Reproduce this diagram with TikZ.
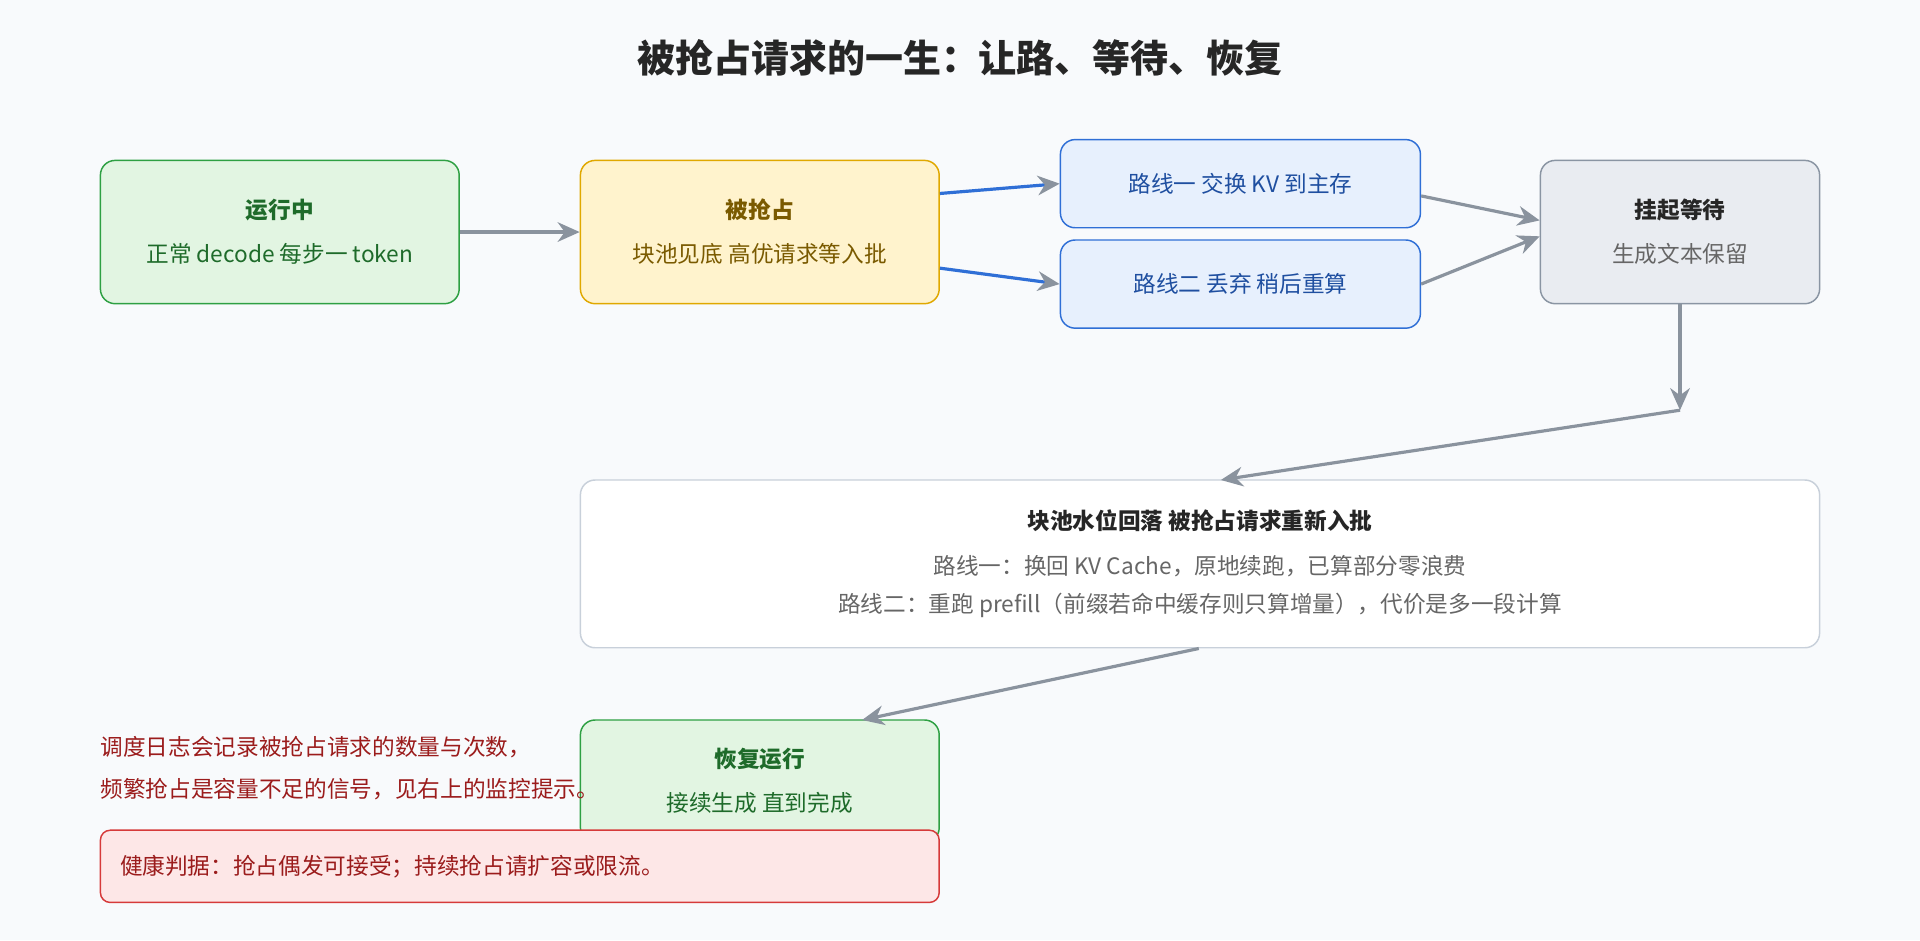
\documentclass[tikz,border=0pt]{standalone}
\usepackage{fontspec}
\setmainfont{Noto Sans CJK SC}
\usetikzlibrary{arrows.meta,positioning}
\definecolor{bgc}{HTML}{F8FAFC}
\definecolor{arr}{HTML}{8A939E}
\definecolor{blu}{HTML}{2F6FD6}
\definecolor{gfill}{HTML}{E2F5E2}\definecolor{gdraw}{HTML}{2EA043}\definecolor{gtext}{HTML}{1E6B2A}
\definecolor{yfill}{HTML}{FFF3CD}\definecolor{ydraw}{HTML}{E0A800}\definecolor{ytext}{HTML}{7A5A00}
\definecolor{bfill}{HTML}{E7F0FD}\definecolor{btext}{HTML}{1F4FA0}
\definecolor{sfill}{HTML}{E9ECF1}\definecolor{sdraw}{HTML}{8A95A3}
\definecolor{rfill}{HTML}{FDE7E7}\definecolor{rdraw}{HTML}{D63A3A}\definecolor{rtext}{HTML}{9B1C1C}
\definecolor{wdraw}{HTML}{C8D0DA}
\tikzset{
  box/.style={rounded corners=12pt,line width=1.2pt,align=center,inner sep=0pt,
    font=\fontsize{18.5}{36}\selectfont},
  flow/.style={draw=arr,line width=2.6pt,-{Stealth[length=18pt,width=16pt,color=arr]}},
  fork/.style={draw=blu,line width=2.6pt,-{Stealth[length=18pt,width=16pt,color=arr]}}
}
\begin{document}
\begin{tikzpicture}[x=1pt,y=-1pt]
\fill[bgc] (0,0) rectangle (1568,768);
\useasboundingbox (0,0) rectangle (1568,768);
\node[font=\fontsize{31}{34}\selectfont\bfseries,text=black!85] (title) at (784,47) {被抢占请求的一生：让路、等待、恢复};
% top row
\node[box,fill=gfill,draw=gdraw,text=gtext,minimum width=293pt,minimum height=117pt] (run) at (228.5,189.5)
  {\textbf{运行中}\\正常 decode 每步一 token};
\node[box,fill=yfill,draw=ydraw,text=ytext,minimum width=293pt,minimum height=117pt] (pre) at (620.5,189.5)
  {\textbf{被抢占}\\块池见底 高优请求等入批};
\node[box,fill=bfill,draw=blu,text=btext,minimum width=294pt,minimum height=72pt] (swap) at (1013,150) {路线一 交换 KV 到主存};
\node[box,fill=bfill,draw=blu,text=btext,minimum width=294pt,minimum height=72pt] (drop) at (1013,232) {路线二 丢弃 稍后重算};
\node[box,fill=sfill,draw=sdraw,text=black!60,minimum width=228pt,minimum height=117pt] (wait) at (1372,189.5)
  {\textcolor{black!85}{\textbf{挂起等待}}\\生成文本保留};
% recovery
\node[box,fill=white,draw=wdraw,text=black!60,minimum width=1012pt,minimum height=137pt,
  font=\fontsize{18.5}{35}\selectfont] (back) at (980,460.5)
  {\textcolor{black!85}{\textbf{块池水位回落 被抢占请求重新入批}}\\[2pt]路线一：换回 KV Cache，原地续跑，已算部分零浪费\\[-4pt]
   路线二：重跑 prefill（前缀若命中缓存则只算增量），代价是多一段计算};
\node[box,fill=gfill,draw=gdraw,text=gtext,minimum width=293pt,minimum height=100pt] (resume) at (620.5,638)
  {\textbf{恢复运行}\\接续生成 直到完成};
\node[anchor=north west,align=left,text=rtext,font=\fontsize{18.5}{34}\selectfont,inner sep=0pt] (note) at (82,601)
  {调度日志会记录被抢占请求的数量与次数，\\频繁抢占是容量不足的信号，见右上的监控提示。};
\node[box,rounded corners=8pt,fill=rfill,draw=rdraw,text=rtext,minimum width=685pt,minimum height=59pt,
  text width=653pt,align=left] (health) at (424.5,707.5) {健康判据：抢占偶发可接受；持续抢占请扩容或限流。};
% connectors
\coordinate (bend) at (1372,335);
\draw[flow] (run) -- (pre);
\draw[fork] (pre.east |- 0,158) -- (swap.west |- 0,150);
\draw[fork] (pre.east |- 0,219) -- (drop.west |- 0,232);
\draw[flow] (swap.east |- 0,160) -- (wait.west |- 0,180);
\draw[flow] (drop.east |- 0,232) -- (wait.west |- 0,193);
\draw[flow] (wait.south) -- (bend);
\draw[flow] (bend) -- (997,392);
\draw[flow] (back.south -| 979,0) -- (704,588);
\end{tikzpicture}
\end{document}
